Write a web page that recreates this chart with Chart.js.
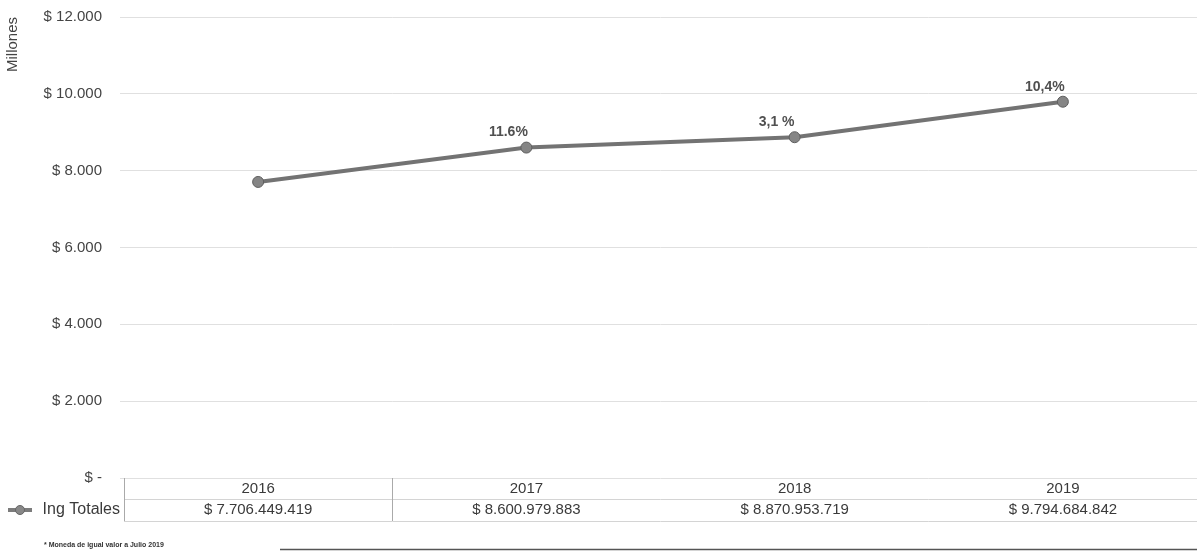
<!DOCTYPE html>
<html>
<head>
<meta charset="utf-8">
<script src="https://cdn.jsdelivr.net/npm/chart.js@4.4.1/dist/chart.umd.min.js"></script>
<style>
html,body{margin:0;padding:0;background:#fff;}
canvas{display:block;}
</style>
</head>
<body>
<canvas id="c" width="1197" height="552"></canvas>
<script>
const years = ['2016', '2017', '2018', '2019'];
const ingTotales = [7706.449419, 8600.979883, 8870.953719, 9794.684842];
const tableValues = ['$ 7.706.449.419', '$ 8.600.979.883', '$ 8.870.953.719', '$ 9.794.684.842'];
const growthLabels = ['', '11.6%', '3,1 %', '10,4%'];
const seriesName = 'Ing Totales';
const yTitle = 'Millones';
const yMin = 0, yMax = 12000, yStep = 2000;
const footnote = '* Moneda de igual valor a Julio 2019';

const FONT = "'Liberation Sans', Arial, sans-serif";

function fmtTick(v) {
  if (v === 0) return '$ -';
  return '$ ' + v.toString().replace(/\B(?=(\d{3})+(?!\d))/g, '.');
}

const tablePlugin = {
  id: 'tablePlugin',
  afterDraw(chart) {
    const ctx = chart.ctx;
    const xs = chart.scales.x;
    const area = chart.chartArea;
    const meta = chart.getDatasetMeta(0);
    ctx.save();
    // growth labels
    ctx.font = 'bold 14px ' + FONT;
    ctx.fillStyle = '#505050';
    ctx.textAlign = 'center';
    ctx.textBaseline = 'middle';
    meta.data.forEach((pt, i) => {
      if (growthLabels[i]) ctx.fillText(growthLabels[i], pt.x - 18, pt.y - 15);
    });
    // table lines
    const yTop = area.bottom, yMid = area.bottom + 21, yBot = area.bottom + 43;
    ctx.strokeStyle = '#d4d4d4';
    ctx.lineWidth = 1;
    ctx.beginPath();
    ctx.moveTo(area.left, yMid + 0.5); ctx.lineTo(area.right, yMid + 0.5);
    ctx.moveTo(area.left, yBot + 0.5); ctx.lineTo(area.right, yBot + 0.5);
    ctx.stroke();
    ctx.strokeStyle = '#aaa';
    ctx.beginPath();
    ctx.moveTo(area.left + 0.5, yTop); ctx.lineTo(area.left + 0.5, yBot);
    const b = (xs.getPixelForValue(0) + xs.getPixelForValue(1)) / 2;
    ctx.moveTo(Math.round(b) + 0.5, yTop); ctx.lineTo(Math.round(b) + 0.5, yBot);
    ctx.stroke();
    // table text
    ctx.fillStyle = '#3a3a3a';
    ctx.font = '15px ' + FONT;
    years.forEach((y, i) => {
      const x = xs.getPixelForValue(i);
      ctx.fillText(y, x, yTop + 11);
      ctx.fillText(tableValues[i], x, yTop + 32);
    });
    // legend key
    ctx.strokeStyle = '#7c7c7c';
    ctx.lineWidth = 4;
    ctx.beginPath();
    ctx.moveTo(8, yTop + 32); ctx.lineTo(32, yTop + 32);
    ctx.stroke();
    ctx.fillStyle = '#888';
    ctx.strokeStyle = '#666';
    ctx.lineWidth = 1;
    ctx.beginPath();
    ctx.arc(20, yTop + 32, 4.5, 0, Math.PI * 2);
    ctx.fill(); ctx.stroke();
    ctx.fillStyle = '#3a3a3a';
    ctx.font = '16px ' + FONT;
    ctx.textAlign = 'right';
    ctx.fillText(seriesName, 120, yTop + 32);
    // footnote
    ctx.textAlign = 'left';
    ctx.font = 'bold 7px ' + FONT;
    ctx.fillStyle = '#333';
    ctx.fillText(footnote, 44, 545);
    ctx.strokeStyle = '#555';
    ctx.lineWidth = 1.5;
    ctx.beginPath();
    ctx.moveTo(280, 549.5); ctx.lineTo(1197, 549.5);
    ctx.stroke();
    ctx.restore();
  }
};

const bgPlugin = {
  id: 'bg',
  beforeDraw(chart) {
    const ctx = chart.ctx;
    ctx.save();
    ctx.fillStyle = '#fff';
    ctx.fillRect(0, 0, chart.width, chart.height);
    ctx.restore();
  }
};

new Chart(document.getElementById('c'), {
  type: 'line',
  data: {
    labels: years,
    datasets: [{
      label: seriesName,
      data: ingTotales,
      borderColor: '#737373',
      borderWidth: 4,
      pointRadius: 5.5,
      pointBackgroundColor: '#858585',
      pointBorderColor: '#5f5f5f',
      pointBorderWidth: 1,
      tension: 0
    }]
  },
  options: {
    responsive: false,
    animation: false,
    layout: { autoPadding: false, padding: { top: 17, bottom: 74, left: 0, right: 0 } },
    plugins: { legend: { display: false }, tooltip: { enabled: false } },
    scales: {
      x: {
        type: 'category',
        offset: true,
        display: false
      },
      y: {
        min: yMin,
        max: yMax,
        ticks: {
          stepSize: yStep,
          callback: (v) => fmtTick(v),
          font: { family: FONT, size: 15 },
          color: '#444',
          padding: 18
        },
        grid: { color: '#e0e0e0', tickLength: 4 },
        border: { display: false },
        title: {
          display: true,
          text: yTitle,
          align: 'end',
          font: { family: FONT, size: 15 },
          color: '#444',
          padding: { top: 4, bottom: 4 }
        },
        afterFit(scale) {
          scale.width = 124;
          scale.paddingTop = -5;
          scale.paddingBottom = 0;
        }
      }
    }
  },
  plugins: [bgPlugin, tablePlugin]
});
</script>
</body>
</html>
